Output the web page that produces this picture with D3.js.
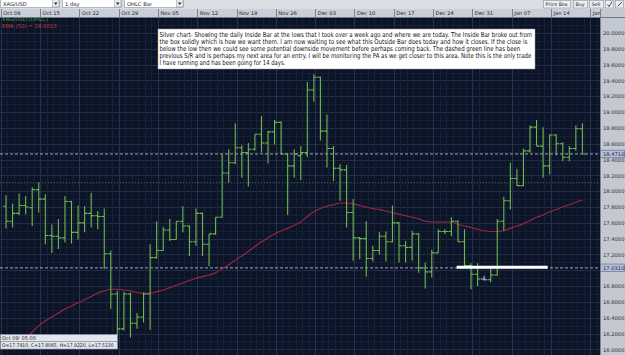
<!DOCTYPE html>
<html lang="en">
<head>
<meta charset="UTF-8">
<title>XAG/USD daily</title>
<script src="https://cdn.jsdelivr.net/npm/d3@7"></script>
<style>
  body { margin: 0; background: #0c1428; overflow: hidden; }
  text { font-family: "DejaVu Sans", sans-serif; }
</style>
</head>
<body>
<script>
const W = 625, H = 355;

// daily bars (6 per week, incl. the short sunday bar), Oct 08 -> Jan 17
const opens  = [17.81,17.62,17.72,17.82,17.79,18.02,17.90,17.44,17.43,17.41,17.87,17.48,17.60,17.72,17.69,17.68,17.21,16.70,16.26,16.70,
                16.33,16.41,16.70,17.16,17.25,17.51,17.39,17.62,17.56,17.36,17.72,17.33,17.46,17.67,18.23,18.36,18.55,18.49,18.53,18.72,
                18.61,18.75,18.87,18.47,18.32,18.45,18.49,19.28,19.44,18.76,18.54,18.29,18.27,17.73,17.41,17.40,17.15,17.25,17.43,17.36,
                17.60,17.31,17.29,17.46,17.03,16.98,17.22,17.49,17.49,17.62,17.36,17.06,16.95,16.89,16.88,16.94,17.62,17.88,18.16,18.07,
                18.51,18.81,18.57,18.32,18.71,18.60,18.43,18.54,18.79];
const highs  = [17.95,17.84,17.97,17.94,18.05,18.11,17.96,17.58,17.65,17.94,17.88,17.82,17.81,17.98,17.75,17.78,17.25,16.74,16.73,16.72,
                16.46,16.72,17.33,17.62,17.55,17.65,17.62,17.81,17.57,17.78,17.73,17.46,17.67,18.47,18.53,18.86,18.58,18.61,18.72,18.95,
                18.76,18.90,18.88,18.48,18.53,18.57,19.38,19.48,19.45,18.97,18.57,18.34,18.33,17.90,17.42,17.62,17.31,17.48,17.49,17.82,
                17.61,17.37,17.50,17.47,17.10,17.26,17.52,17.52,17.67,17.63,17.52,17.09,17.09,16.93,17.05,17.65,17.93,18.36,18.28,18.54,
                18.83,18.90,18.81,18.72,18.72,18.62,18.57,18.83,18.86];
const lows   = [17.53,17.54,17.70,17.71,17.56,17.73,17.33,17.22,17.27,17.35,17.34,17.39,17.48,17.54,17.52,17.02,16.51,16.17,16.24,16.15,
                16.26,16.34,16.25,17.15,17.25,17.37,17.39,17.48,17.18,17.31,17.18,17.05,17.45,17.67,18.11,18.34,18.17,18.06,18.51,18.49,
                18.35,18.59,18.47,17.70,18.17,18.14,18.43,19.13,18.64,18.30,18.13,17.88,17.54,17.12,17.14,16.92,17.11,17.20,17.11,17.35,
                17.10,17.10,17.12,16.97,16.77,16.91,17.22,17.46,17.43,17.36,17.05,16.76,16.80,16.87,16.85,16.93,17.50,17.77,18.07,18.07,
                18.49,18.57,18.17,18.21,18.45,18.38,18.38,18.51,18.48];
const closes = [17.62,17.72,17.82,17.80,18.02,17.90,17.44,17.43,17.41,17.87,17.48,17.60,17.72,17.69,17.68,17.21,16.70,16.26,16.70,16.33,
                16.41,16.70,17.16,17.25,17.51,17.39,17.62,17.56,17.36,17.72,17.33,17.46,17.67,18.23,18.36,18.55,18.49,18.53,18.72,18.61,
                18.75,18.87,18.47,18.32,18.47,18.49,19.28,19.44,18.76,18.54,18.29,18.27,17.73,17.41,17.40,17.15,17.25,17.43,17.36,17.60,
                17.31,17.29,17.46,17.03,16.98,17.22,17.49,17.49,17.62,17.36,17.06,16.95,16.89,16.88,16.94,17.62,17.88,18.16,18.07,18.51,
                18.81,18.57,18.32,18.71,18.60,18.43,18.54,18.79,18.471];
const ema50  = [16.00,16.05,16.10,16.15,16.22,16.30,16.36,16.41,16.46,16.51,16.55,16.59,16.63,16.67,16.71,16.74,16.76,16.76,16.75,16.74,
                16.72,16.71,16.71,16.73,16.75,16.78,16.81,16.84,16.87,16.90,16.92,16.94,16.97,17.02,17.07,17.13,17.18,17.24,17.30,17.36,
                17.41,17.46,17.50,17.53,17.57,17.61,17.68,17.74,17.78,17.81,17.83,17.85,17.85,17.84,17.82,17.80,17.78,17.77,17.75,17.73,
                17.71,17.69,17.67,17.65,17.62,17.61,17.61,17.61,17.61,17.58,17.56,17.54,17.52,17.50,17.49,17.49,17.50,17.53,17.56,17.59,
                17.63,17.67,17.70,17.74,17.77,17.80,17.83,17.86,17.89];

const weekLabels = ["Oct 08","Oct 15","Oct 22","Oct 29","Nov 05","Nov 12","Nov 19","Nov 26",
                    "Dec 03","Dec 10","Dec 17","Dec 24","Dec 31","Jan 07","Jan 14","Jan 21"];
const priceTicks = d3.range(80, 101).map(d => d / 5);   // 16.0 .. 20.0 step 0.2
const currentPrice = 18.471;
const levelPrice = 17.031;
const srPrice = 18.11;               // dashed green S/R
const boxLine = {from: 68.8, to: 82.7, price: 17.04};
const noteLines = [
  "Silver chart- Showing the daily Inside Bar at the lows that I took over a week ago and where we are today. The Inside Bar broke out from",
  "the box solidly which is how we want them. I am now waiting to see what this Outside Bar does today and how it closes. If the close is",
  "below the low then we could see some potential downside movement before perhaps coming back. The dashed green line has been",
  "previous S/R and is perhaps my next area for an entry. I will be monitoring the PA as we get closer to this area. Note this is the only trade",
  "I have running and has been going for 14 days."
];
const noteWidths = [373, 369, 361, 373, 126];

const svg = d3.select("body").append("svg").attr("width", W).attr("height", H);

const plot = {left: 0, right: 600, top: 17, bottom: H};
const x = d3.scaleLinear().domain([0, 88]).range([6, 582.4]);
const y = d3.scaleLinear().domain([16, 20]).range([349.4, 33]);

svg.append("defs").append("clipPath").attr("id", "pc")
  .append("rect").attr("x", plot.left).attr("y", plot.top)
  .attr("width", plot.right - plot.left).attr("height", plot.bottom - plot.top);

svg.append("rect").attr("width", W).attr("height", H).attr("fill", "#0c1428");

const g = svg.append("g").attr("clip-path", "url(#pc)");

// grid
const minorH = d3.range(160, 203).map(d => d / 10);
g.selectAll(".hmin").data(minorH).join("line")
  .attr("x1", plot.left).attr("x2", plot.right)
  .attr("y1", d => Math.round(y(d)) + 0.5).attr("y2", d => Math.round(y(d)) + 0.5)
  .attr("stroke", "#161f36");
g.selectAll(".hmaj").data(priceTicks.concat([20.2])).join("line")
  .attr("x1", plot.left).attr("x2", plot.right)
  .attr("y1", d => Math.round(y(d)) + 0.5).attr("y2", d => Math.round(y(d)) + 0.5)
  .attr("stroke", "#232d47");
g.selectAll(".vmin").data(d3.range(0, 96)).join("line")
  .attr("x1", d => Math.round(x(d - 0.8)) + 0.5).attr("x2", d => Math.round(x(d - 0.8)) + 0.5)
  .attr("y1", plot.top).attr("y2", plot.bottom)
  .attr("stroke", "#161f36");
g.selectAll(".vmaj").data(weekLabels).join("line")
  .attr("x1", (d, k) => Math.round(x(6 * k - 0.8)) + 0.5).attr("x2", (d, k) => Math.round(x(6 * k - 0.8)) + 0.5)
  .attr("y1", plot.top).attr("y2", plot.bottom)
  .attr("stroke", "#27324d");

// level lines
g.append("line").attr("x1", 0).attr("x2", plot.right)
  .attr("y1", y(srPrice)).attr("y2", y(srPrice))
  .attr("stroke", "#2f6d36").attr("stroke-dasharray", "1,2");
[currentPrice, levelPrice].forEach(p => {
  g.append("line").attr("x1", 0).attr("x2", plot.right)
    .attr("y1", y(p)).attr("y2", y(p))
    .attr("stroke", "#9ea3c8").attr("stroke-dasharray", "3,2");
});

// EMA
const line = d3.line().x((d, i) => x(i)).y(d => y(d)).curve(d3.curveMonotoneX);
g.append("path").datum(ema50).attr("d", line)
  .attr("fill", "none").attr("stroke", "#9e2640").attr("stroke-width", 1.1);

// OHLC bars
const tick = 3;
g.selectAll(".bar").data(d3.range(opens.length)).join("path")
  .attr("d", i => `M${x(i)},${y(highs[i])}V${y(lows[i])}` +
                  `M${x(i) - tick},${y(opens[i])}H${x(i)}` +
                  `M${x(i)},${y(closes[i])}H${x(i) + tick}`)
  .attr("fill", "none")
  .attr("stroke", i => i === 73 ? "#b9bcc4" : "#6cba4e")
  .attr("stroke-width", 1.1);

// white annotation line
g.append("line")
  .attr("x1", x(boxLine.from)).attr("x2", x(boxLine.to))
  .attr("y1", y(boxLine.price)).attr("y2", y(boxLine.price))
  .attr("stroke", "#ffffff").attr("stroke-width", 3);

// note box - each line squeezed horizontally to the width it takes in the screenshot
const note = svg.append("g");
note.append("rect").attr("x", 158).attr("y", 29).attr("width", 377).attr("height", 40)
  .attr("fill", "#ffffff").attr("stroke", "#9a9a9a").attr("stroke-width", 0.5);
note.selectAll("text").data(noteLines).join("text")
  .attr("font-size", 6.8).attr("fill", "#111")
  .text(d => d)
  .attr("transform", function(d, i) {
    const k = noteWidths[i] / this.getComputedTextLength();
    return `translate(159.5,${36.6 + i * 7}) scale(${k},1)`;
  });

// legend
svg.append("text").attr("x", 2).attr("y", 21).attr("font-size", 5.4).attr("fill", "#3da13d")
  .text("XAG/USD (OHLC)");
svg.append("text").attr("x", 2).attr("y", 27.5).attr("font-size", 5.4).attr("fill", "#c23a35")
  .text("EMA (50) = 18.0013");

// info box bottom-left
svg.append("rect").attr("x", 0.5).attr("y", 334.5).attr("width", 117).attr("height", 7)
  .attr("fill", "#e3e6ec").attr("stroke", "#8b93a5").attr("stroke-width", 0.6);
svg.append("rect").attr("x", 0.5).attr("y", 341.5).attr("width", 117).attr("height", 7.5)
  .attr("fill", "#e3e6ec").attr("stroke", "#8b93a5").attr("stroke-width", 0.6);
svg.append("text").attr("x", 2).attr("y", 340.2).attr("font-size", 5).attr("fill", "#222")
  .text("Oct 09' 05:00");
svg.append("text").attr("font-size", 5).attr("fill", "#222")
  .text("O=17.7910, C=17.8065, H=17.9220, L=17.5130")
  .attr("transform", function() { return `translate(2,347.4) scale(${112 / this.getComputedTextLength()},1)`; });

// right price axis
svg.append("rect").attr("x", plot.right).attr("y", 9).attr("width", W - plot.right).attr("height", H - 9)
  .attr("fill", "#c3c8d1");
svg.append("line").attr("x1", plot.right + 0.5).attr("x2", plot.right + 0.5).attr("y1", 9).attr("y2", H)
  .attr("stroke", "#7d8597");
// labels hidden where a highlighted price label sits on top of them
const visibleTicks = priceTicks.filter(t => Math.abs(y(t) - y(currentPrice)) > 4 && Math.abs(y(t) - y(levelPrice)) > 4);
const yAxis = svg.append("g").attr("transform", `translate(${plot.right},0)`)
  .call(d3.axisRight(y).tickValues(visibleTicks).tickFormat(d3.format(".4f")).tickSize(0).tickPadding(3));
yAxis.select(".domain").remove();
yAxis.selectAll("text").attr("font-size", 5.2).attr("fill", "#2c2f36").attr("font-family", "DejaVu Sans");

[currentPrice, levelPrice].forEach(p => {
  svg.append("rect").attr("x", plot.right + 0.5).attr("y", y(p) - 3.8).attr("width", 24).attr("height", 7.6)
    .attr("fill", "#b5c0d8").attr("stroke", "#56648a").attr("stroke-width", 0.6);
  svg.append("text").attr("x", plot.right + 3).attr("y", y(p) + 1.9)
    .attr("font-size", 5.2).attr("fill", "#1d2233").text(d3.format(".4f")(p));
});

// date header
svg.append("rect").attr("x", 0).attr("y", 9).attr("width", plot.right).attr("height", 8)
  .attr("fill", "#c9ced8");
svg.append("line").attr("x1", 0).attr("x2", W).attr("y1", 17.5).attr("y2", 17.5).attr("stroke", "#6f778a");
const header = svg.append("g");
header.selectAll("line").data(weekLabels).join("line")
  .attr("x1", (d, k) => Math.round(x(6 * k - 0.8)) + 0.5).attr("x2", (d, k) => Math.round(x(6 * k - 0.8)) + 0.5)
  .attr("y1", 9).attr("y2", 17).attr("stroke", "#7a8193");
header.selectAll("text").data(weekLabels.slice(0, -1)).join("text")
  .attr("x", (d, k) => x(6 * k - 0.8) + 2.5).attr("y", 15.2)
  .attr("font-size", 5.2).attr("fill", "#1f232c")
  .text(d => d);
// last week label is cut by the price axis, as in the platform
header.append("text").attr("x", x(6 * 15 - 0.8) + 2.5).attr("y", 15.2)
  .attr("font-size", 5.2).attr("fill", "#1f232c").text(weekLabels[15].slice(0, 3));
svg.append("rect").attr("x", plot.right).attr("y", 9).attr("width", W - plot.right).attr("height", 8)
  .attr("fill", "#c3c8d1");
svg.append("line").attr("x1", plot.right + 0.5).attr("x2", plot.right + 0.5).attr("y1", 9).attr("y2", 17)
  .attr("stroke", "#7a8193");

// toolbar
svg.append("rect").attr("x", 0).attr("y", 0).attr("width", W).attr("height", 9).attr("fill", "#dadde3");
const drops = [{t: "XAG/USD", x0: 0, x1: 59}, {t: "1 day", x0: 62, x1: 121}, {t: "OHLC Bar", x0: 124, x1: 183}];
drops.forEach(d => {
  svg.append("rect").attr("x", d.x0 + 0.5).attr("y", -1).attr("width", d.x1 - d.x0).attr("height", 8.5)
    .attr("fill", "#ffffff").attr("stroke", "#8c93a2").attr("stroke-width", 0.6);
  svg.append("rect").attr("x", d.x1 - 6.5).attr("y", -0.5).attr("width", 6.5).attr("height", 7.5)
    .attr("fill", "#e8eaee").attr("stroke", "#8c93a2").attr("stroke-width", 0.5);
  svg.append("path").attr("d", `M${d.x1 - 5},2.5H${d.x1 - 1.5}L${d.x1 - 3.25},5Z`).attr("fill", "#222");
  svg.append("text").attr("x", d.x0 + 3).attr("y", 6).attr("font-size", 5.2).attr("fill", "#222").text(d.t);
});
const buttons = [{t: "Price Box", x0: 543, x1: 570}, {t: "Buy", x0: 573, x1: 587}, {t: "Sell", x0: 589, x1: 603}];
buttons.forEach(b => {
  svg.append("rect").attr("x", b.x0 + 0.5).attr("y", 0.5).attr("width", b.x1 - b.x0).attr("height", 7.5)
    .attr("fill", "#eceef2").attr("stroke", "#8c93a2").attr("stroke-width", 0.6);
  svg.append("text").attr("x", (b.x0 + b.x1) / 2).attr("y", 6).attr("text-anchor", "middle")
    .attr("font-size", 4.8).attr("fill", "#222").text(b.t);
});
svg.append("rect").attr("x", 605.5).attr("y", 0.5).attr("width", 8).attr("height", 7.5)
  .attr("fill", "#eceef2").attr("stroke", "#8c93a2").attr("stroke-width", 0.6);
svg.append("path").attr("d", "M607.5,4.5L609,6.5L612,1.8").attr("fill", "none").attr("stroke", "#333").attr("stroke-width", 0.9);
svg.append("rect").attr("x", 615.5).attr("y", 0.5).attr("width", 8).attr("height", 7.5)
  .attr("fill", "#eceef2").attr("stroke", "#8c93a2").attr("stroke-width", 0.6);
svg.append("path").attr("d", "M617.5,6.5L622,2").attr("fill", "none").attr("stroke", "#333").attr("stroke-width", 0.9);
</script>
</body>
</html>
